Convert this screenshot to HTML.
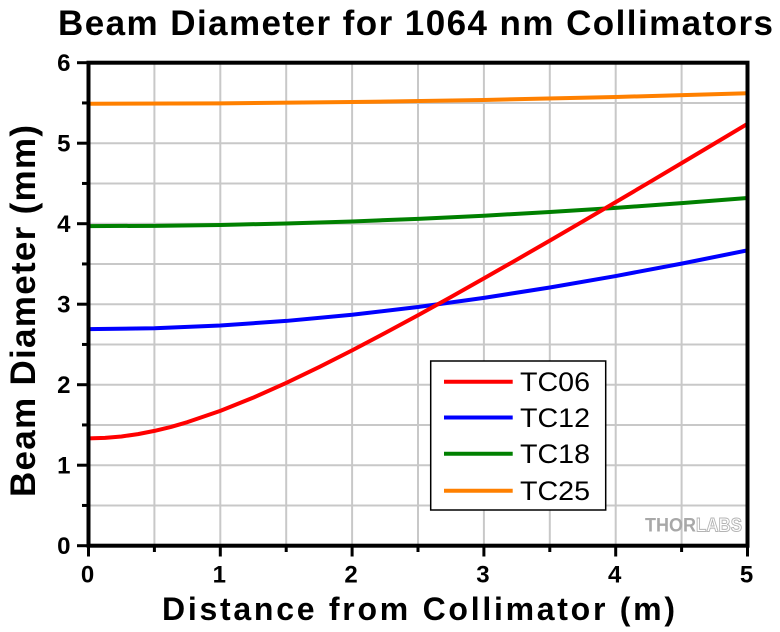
<!DOCTYPE html>
<html>
<head>
<meta charset="utf-8">
<style>
  html, body { margin: 0; padding: 0; background: #ffffff; }
  svg { display: block; }
  text { font-family: "Liberation Sans", Arial, sans-serif; }
</style>
</head>
<body>
<svg width="780" height="632" viewBox="0 0 780 632" xmlns="http://www.w3.org/2000/svg">
  <rect x="0" y="0" width="780" height="632" fill="#ffffff"/>

  <!-- Title -->
  <text x="58" y="35" font-size="35" font-weight="bold" fill="#000" textLength="715" lengthAdjust="spacing">Beam Diameter for 1064 nm Collimators</text>

  <!-- Grid -->
  <g stroke="#c8c8c8" stroke-width="2">
    <line x1="154.4" y1="62.7" x2="154.4" y2="545.7"/>
    <line x1="220.3" y1="62.7" x2="220.3" y2="545.7"/>
    <line x1="286.2" y1="62.7" x2="286.2" y2="545.7"/>
    <line x1="352.1" y1="62.7" x2="352.1" y2="545.7"/>
    <line x1="418.0" y1="62.7" x2="418.0" y2="545.7"/>
    <line x1="483.9" y1="62.7" x2="483.9" y2="545.7"/>
    <line x1="549.8" y1="62.7" x2="549.8" y2="545.7"/>
    <line x1="615.7" y1="62.7" x2="615.7" y2="545.7"/>
    <line x1="681.6" y1="62.7" x2="681.6" y2="545.7"/>

    <line x1="88.5" y1="505.45" x2="747.5" y2="505.45"/>
    <line x1="88.5" y1="465.2" x2="747.5" y2="465.2"/>
    <line x1="88.5" y1="424.95" x2="747.5" y2="424.95"/>
    <line x1="88.5" y1="384.7" x2="747.5" y2="384.7"/>
    <line x1="88.5" y1="344.45" x2="747.5" y2="344.45"/>
    <line x1="88.5" y1="304.2" x2="747.5" y2="304.2"/>
    <line x1="88.5" y1="263.95" x2="747.5" y2="263.95"/>
    <line x1="88.5" y1="223.7" x2="747.5" y2="223.7"/>
    <line x1="88.5" y1="183.45" x2="747.5" y2="183.45"/>
    <line x1="88.5" y1="143.2" x2="747.5" y2="143.2"/>
    <line x1="88.5" y1="102.95" x2="747.5" y2="102.95"/>
  </g>

  <!-- Watermark -->
  <text x="645" y="531.5" font-size="19" font-weight="bold" fill="#a8a8a8" textLength="51" lengthAdjust="spacingAndGlyphs">THOR</text>
  <text x="696" y="531.5" font-size="19" font-weight="bold" fill="#ffffff" stroke="#b4b4b4" stroke-width="1" textLength="46" lengthAdjust="spacingAndGlyphs">LABS</text>

  <defs>
    <clipPath id="plot">
      <rect x="88.5" y="62.7" width="659" height="483"/>
    </clipPath>
  </defs>

  <!-- Series -->
  <g clip-path="url(#plot)" fill="none" stroke-width="4" stroke-linejoin="round">
    <polyline stroke="#ff8000" points="88.5,103.75 220.3,103.33 352.1,102.06 483.9,99.95 615.7,97.01 747.5,93.25"/>
    <polyline stroke="#008000" points="88.5,226.11 154.4,225.82 220.3,224.94 286.2,223.48 352.1,221.45 418.0,218.85 483.9,215.70 549.8,212.03 615.7,207.83 681.6,203.14 747.5,197.97"/>
    <polyline stroke="#0000ff" points="88.5,329.15 154.4,328.23 220.3,325.46 286.2,320.93 352.1,314.73 418.0,307.00 483.9,297.87 549.8,287.50 615.7,276.04 681.6,263.61 747.5,250.33"/>
    <polyline stroke="#ff0000" points="88.5,438.4 105,437.9 121.45,436.47 138,434.1 154.4,430.90 171,426.9 187.35,422.17 220.3,410.89 253.25,397.65 286.2,382.92 319.15,367.07 352.1,350.38 385.05,333.04 418.0,315.20 450.95,296.95 483.9,278.41 516.85,259.60 549.8,240.60 582.75,221.42 615.7,202.11 648.65,182.68 681.6,163.13 714.55,143.51 747.5,123.82"/>
  </g>

  <!-- Axes frame -->
  <rect x="88.5" y="62.7" width="659" height="483" fill="none" stroke="#000" stroke-width="4"/>

  <!-- Left ticks -->
  <g stroke="#000" stroke-width="3">
    <line x1="77" y1="545.7" x2="88.5" y2="545.7"/>
    <line x1="77" y1="465.2" x2="88.5" y2="465.2"/>
    <line x1="77" y1="384.7" x2="88.5" y2="384.7"/>
    <line x1="77" y1="304.2" x2="88.5" y2="304.2"/>
    <line x1="77" y1="223.7" x2="88.5" y2="223.7"/>
    <line x1="77" y1="143.2" x2="88.5" y2="143.2"/>
    <line x1="77" y1="62.7" x2="88.5" y2="62.7"/>
    <line x1="82" y1="505.45" x2="88.5" y2="505.45"/>
    <line x1="82" y1="424.95" x2="88.5" y2="424.95"/>
    <line x1="82" y1="344.45" x2="88.5" y2="344.45"/>
    <line x1="82" y1="263.95" x2="88.5" y2="263.95"/>
    <line x1="82" y1="183.45" x2="88.5" y2="183.45"/>
    <line x1="82" y1="102.95" x2="88.5" y2="102.95"/>
  </g>
  <!-- Bottom ticks -->
  <g stroke="#000" stroke-width="3">
    <line x1="88.5" y1="545.7" x2="88.5" y2="556.5"/>
    <line x1="220.3" y1="545.7" x2="220.3" y2="556.5"/>
    <line x1="352.1" y1="545.7" x2="352.1" y2="556.5"/>
    <line x1="483.9" y1="545.7" x2="483.9" y2="556.5"/>
    <line x1="615.7" y1="545.7" x2="615.7" y2="556.5"/>
    <line x1="747.5" y1="545.7" x2="747.5" y2="556.5"/>
    <line x1="154.4" y1="545.7" x2="154.4" y2="552"/>
    <line x1="286.2" y1="545.7" x2="286.2" y2="552"/>
    <line x1="418.0" y1="545.7" x2="418.0" y2="552"/>
    <line x1="549.8" y1="545.7" x2="549.8" y2="552"/>
    <line x1="681.6" y1="545.7" x2="681.6" y2="552"/>
  </g>

  <!-- Y tick labels -->
  <g font-size="24" font-weight="bold" fill="#000" text-anchor="end">
    <text x="70.5" y="554">0</text>
    <text x="70.5" y="473.5">1</text>
    <text x="70.5" y="393">2</text>
    <text x="70.5" y="312.5">3</text>
    <text x="70.5" y="232">4</text>
    <text x="70.5" y="151.5">5</text>
    <text x="70.5" y="71">6</text>
  </g>

  <!-- X tick labels -->
  <g font-size="24" font-weight="bold" fill="#000" text-anchor="middle">
    <text x="87.5" y="582.5">0</text>
    <text x="219.3" y="582.5">1</text>
    <text x="351.1" y="582.5">2</text>
    <text x="482.9" y="582.5">3</text>
    <text x="614.7" y="582.5">4</text>
    <text x="746.5" y="582.5">5</text>
  </g>

  <!-- Axis titles -->
  <text x="162" y="620" font-size="32" font-weight="bold" fill="#000" textLength="513" lengthAdjust="spacing">Distance from Collimator (m)</text>
  <text x="0" y="0" font-size="35" font-weight="bold" fill="#000" textLength="372" lengthAdjust="spacing" transform="translate(35,497) rotate(-90)">Beam Diameter (mm)</text>

  <!-- Legend -->
  <rect x="430.7" y="361" width="175" height="149" fill="#ffffff" stroke="#000" stroke-width="1.5"/>
  <g stroke-width="4">
    <line x1="444" y1="381.7" x2="512.7" y2="381.7" stroke="#ff0000"/>
    <line x1="444" y1="417.5" x2="512.7" y2="417.5" stroke="#0000ff"/>
    <line x1="444" y1="453.7" x2="512.7" y2="453.7" stroke="#008000"/>
    <line x1="444" y1="490.7" x2="512.7" y2="490.7" stroke="#ff8000"/>
  </g>
  <g font-size="27" fill="#000">
    <text x="520" y="391" textLength="70" lengthAdjust="spacingAndGlyphs">TC06</text>
    <text x="520" y="427" textLength="70" lengthAdjust="spacingAndGlyphs">TC12</text>
    <text x="520" y="463.2" textLength="70" lengthAdjust="spacingAndGlyphs">TC18</text>
    <text x="520" y="500.2" textLength="70" lengthAdjust="spacingAndGlyphs">TC25</text>
  </g>
</svg>
</body>
</html>
